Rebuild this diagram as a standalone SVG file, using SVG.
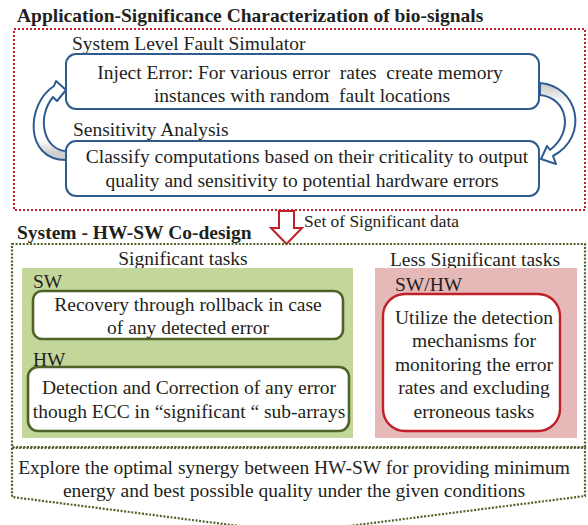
<svg xmlns="http://www.w3.org/2000/svg" width="588" height="525" viewBox="0 0 588 525">
<style>
text{font-family:"Liberation Serif","Times New Roman",serif;fill:#231f20;font-size:19.5px;white-space:pre}
.b{font-weight:bold}
.c{text-anchor:middle}
.s{font-size:17.4px}
.blue{fill:#fff;stroke:#2f5b8e;stroke-width:2}
.grn{fill:#fff;stroke:#4f6228;stroke-width:2.6}
.red{fill:#fff;stroke:#c0202a;stroke-width:2.4}
.dotr{fill:none;stroke:#c0202a;stroke-width:2;stroke-dasharray:2 2}
.dotg{fill:none;stroke:#4f6228;stroke-width:2.2;stroke-dasharray:2 1.6}
.arc{stroke:#2f5b8e;stroke-width:2;stroke-linejoin:round}
</style>
<defs>
<linearGradient id="gl" x1="0" y1="0" x2="0" y2="1"><stop offset="0.75" stop-color="#fff"/><stop offset="0.9" stop-color="#d0d0d0"/></linearGradient>
<linearGradient id="gr" x1="0" y1="0" x2="0" y2="1"><stop offset="0.05" stop-color="#d0d0d0"/><stop offset="0.25" stop-color="#fff"/></linearGradient>
</defs>

<g id="stage1">
<text class="b" x="17" y="22">Application-Significance Characterization of bio-signals</text>
<rect class="dotr" x="14" y="29" width="571" height="181"/>
</g>

<g id="simulator">
<text x="72" y="50">System Level Fault Simulator</text>
<rect class="blue" x="66" y="54" width="473" height="55" rx="10"/>
<text class="c" x="300" y="79">Inject Error: For various error  rates  create memory</text>
<text class="c" x="302" y="102">instances with random  fault locations</text>
</g>

<g id="sensitivity">
<text x="73" y="136">Sensitivity Analysis</text>
<rect class="blue" x="66" y="141" width="473" height="55" rx="10"/>
<text class="c" x="307" y="163">Classify computations based on their criticality to output</text>
<text class="c" x="302" y="187">quality and sensitivity to potential hardware errors</text>
</g>

<g id="connectors">
<path class="arc" fill="url(#gl)" d="M66,151 C44,150 36,118 53,97 L57,101 L66,90 L56,81 L54,86 C26,104 24,160 66,160 Z"/>
<path class="arc" fill="url(#gr)" d="M540,83 C578,86 590,136 553,156 L556,164 L541,159 L547,146 L550,150 C574,132 568,98 540,95 Z"/>
<path fill="#fff" stroke="#c0202a" stroke-width="2" stroke-linejoin="miter" d="M279,211 L294,211 L294,228 L302,228 L286.5,244 L271,228 L279,228 Z"/>
<text class="s" x="304" y="227">Set of Significant data</text>
</g>

<g id="stage2">
<text class="b" x="17" y="239">System - HW-SW Co-design</text>
<rect class="dotg" x="12" y="244" width="573" height="203"/>
</g>

<g id="significant">
<text class="c" x="183" y="265">Significant tasks</text>
<rect x="22" y="268" width="331" height="170" fill="#c4d79b"/>
<text x="33" y="288">SW</text>
<rect class="grn" x="33" y="291" width="310" height="48" rx="9"/>
<text class="c" x="188" y="311">Recovery through rollback in case</text>
<text class="c" x="188" y="334">of any detected error</text>
<text x="33" y="366">HW</text>
<rect class="grn" x="28" y="367" width="321" height="64" rx="10"/>
<text class="c" x="189" y="394">Detection and Correction of any error</text>
<text class="c" x="189" y="418">though ECC in “significant “ sub-arrays</text>
</g>

<g id="less-significant">
<text class="c" x="475" y="266">Less Significant tasks</text>
<rect x="375" y="268" width="202" height="170" fill="#e6b8b7"/>
<text x="395" y="291">SW/HW</text>
<rect class="red" x="383" y="294" width="177" height="137" rx="22"/>
<text class="c" x="474" y="324">Utilize the detection</text>
<text class="c" x="474" y="347">mechanisms for</text>
<text class="c" x="474" y="371">monitoring the error</text>
<text class="c" x="474" y="394">rates and excluding</text>
<text class="c" x="474" y="418">erroneous tasks</text>
</g>

<g id="synergy">
<path class="dotg" d="M12,448 L585,448 L585,496 L294,533 L12,497 Z"/>
<text class="c" x="294" y="474">Explore the optimal synergy between HW-SW for providing minimum</text>
<text class="c" x="294" y="497">energy and best possible quality under the given conditions</text>
</g>
</svg>
